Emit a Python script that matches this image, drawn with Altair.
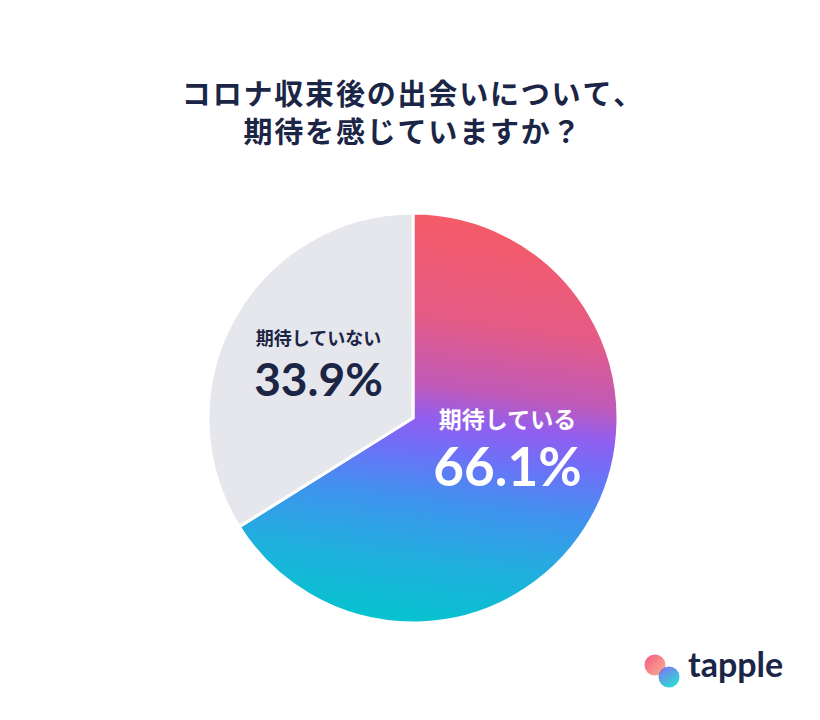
import altair as alt
import pandas as pd

labels = ["期待している", "期待していない"]
values = [66.1, 33.9]
pct_text = ["66.1%", "33.9%"]
order = [1, 2]

title_lines = ["コロナ収束後の出会いについて、", "期待を感じていますか？"]

df = pd.DataFrame({"label": labels, "value": values, "pct": pct_text, "order": order})

CX, CY, R = 405, 410, 205
NAVY = "#1B2546"

grad = alt.LinearGradient(
    gradient="linear",
    stops=[
        alt.GradientStop(color="#F65B66", offset=0),
        alt.GradientStop(color="#E55B85", offset=0.25),
        alt.GradientStop(color="#C05AB8", offset=0.42),
        alt.GradientStop(color="#925EEF", offset=0.5),
        alt.GradientStop(color="#6E70F8", offset=0.58),
        alt.GradientStop(color="#3F93EE", offset=0.7),
        alt.GradientStop(color="#1FB0DD", offset=0.85),
        alt.GradientStop(color="#06C3CF", offset=1),
    ],
    x1=0.56, y1=0, x2=0.44, y2=1,
)

is_yes = alt.datum.label == labels[0]
is_no = alt.datum.label == labels[1]

base = alt.Chart(df).encode(
    theta=alt.Theta("value:Q", stack=True),
    order=alt.Order("order:Q"),
    x=alt.value(CX),
    y=alt.value(CY),
)

pie = base.mark_arc(outerRadius=R, stroke="white", strokeWidth=3).encode(
    fill=alt.condition(is_yes, alt.value(grad), alt.value("#E6E7EC"))
)

def lbl(dy, field, size, color, show, font, weight):
    return base.mark_text(radius=108, dy=dy, fontSize=size, fill=color, font=font,
                          fontWeight=weight, align="center", baseline="middle").encode(
        text=alt.condition(show, alt.Text(f"{field}:N"), alt.value(""))
    )

yes_name = lbl(-49, "label", 23, "white", is_yes, "Noto Sans CJK JP", "bold")
yes_pct = lbl(0, "pct", 53, "white", is_yes, "Lato", "bold")
no_name = lbl(-26, "label", 18, NAVY, is_no, "Noto Sans CJK JP", "bold")
no_pct = lbl(16, "pct", 46, NAVY, is_no, "Lato", "bold")

HS = "\u200a"
tdf = pd.DataFrame({"t": [HS.join(list(s)) for s in title_lines], "i": [0, 1]})

def title_line(i, ypos):
    return alt.Chart(tdf).transform_filter(alt.datum.i == i).mark_text(
        fontSize=29, font="Noto Sans CJK JP", fontWeight="bold", fill=NAVY,
        align="center", baseline="middle"
    ).encode(text="t:N", x=alt.value(404), y=alt.value(88))  if i == 0 else \
        alt.Chart(tdf).transform_filter(alt.datum.i == i).mark_text(
        fontSize=29, font="Noto Sans CJK JP", fontWeight="bold", fill=NAVY,
        align="center", baseline="middle"
    ).encode(text="t:N", x=alt.value(404), y=alt.value(ypos))

title1 = title_line(0, 88)
title2 = title_line(1, 126)

logo_df = pd.DataFrame({"name": ["tapple"]})
c1 = alt.Chart(logo_df).mark_circle(size=440, opacity=0.95).encode(
    x=alt.value(647), y=alt.value(657),
    color=alt.value(alt.LinearGradient(gradient="linear",
        stops=[alt.GradientStop(color="#F5507C", offset=0), alt.GradientStop(color="#F6B08C", offset=1)],
        x1=0, y1=0, x2=1, y2=1)),
)
c2 = alt.Chart(logo_df).mark_circle(size=440, opacity=0.9).encode(
    x=alt.value(661), y=alt.value(669),
    color=alt.value(alt.LinearGradient(gradient="linear",
        stops=[alt.GradientStop(color="#7A5CF5", offset=0), alt.GradientStop(color="#14D6CF", offset=1)],
        x1=0, y1=0, x2=0.6, y2=1)),
)
logo_text = alt.Chart(logo_df).mark_text(
    fontSize=34, font="Lato", fontWeight="bold", fill=NAVY, align="left", baseline="alphabetic"
).encode(text="name:N", x=alt.value(680), y=alt.value(669))

chart = alt.layer(
    pie, yes_name, yes_pct, no_name, no_pct, title1, title2, c1, c2, logo_text
).properties(
    width=804, height=704, autosize=alt.AutoSizeParams(type="none"), padding=0
).configure_view(stroke=None)

chart.save("out.html", embed_options={"renderer": "svg", "actions": False})
